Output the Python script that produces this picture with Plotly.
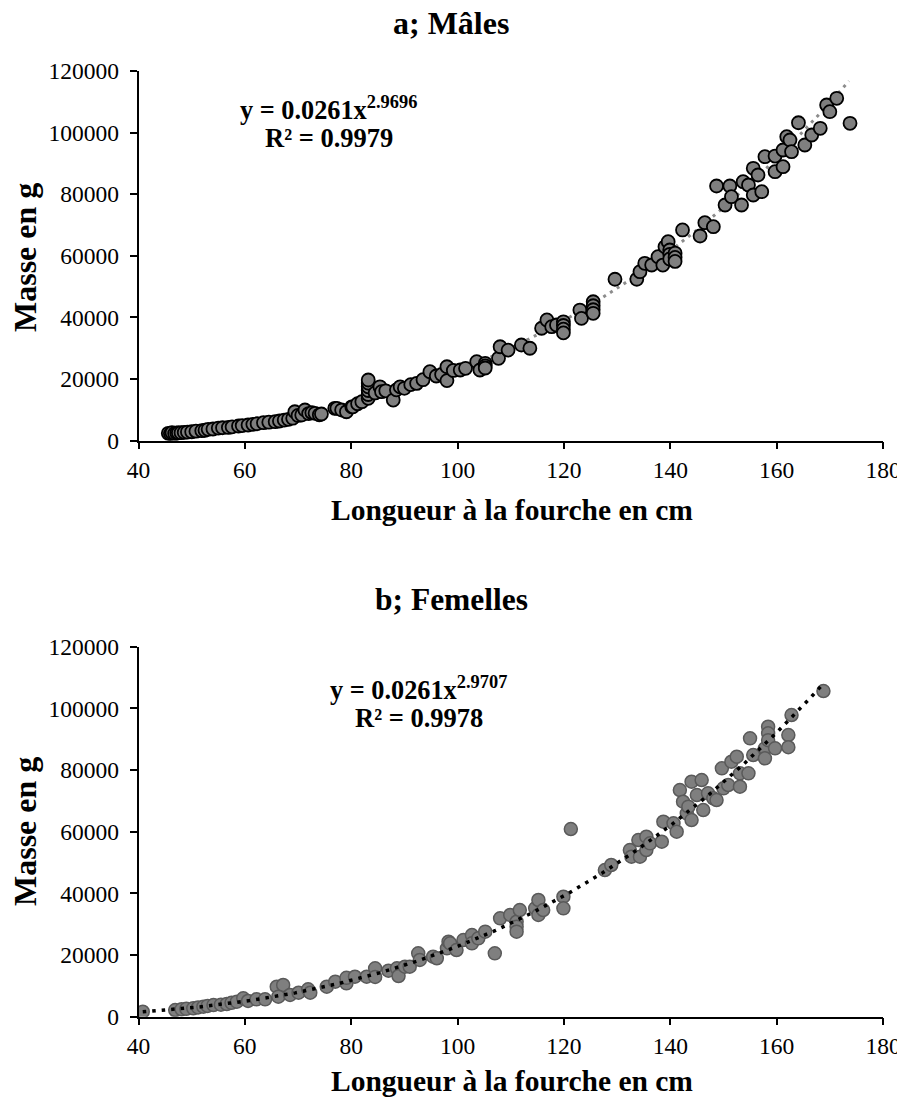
import numpy as np
import plotly.graph_objects as go

# ---------------- data: males ----------------
male_len = [45.6, 46.0, 46.3, 46.8, 47.2, 47.5, 48.0, 48.6, 49.2, 50.0, 50.8, 51.9, 52.5, 53.1,
            54.0, 55.0, 55.8, 56.9, 57.6, 58.8, 59.5, 60.6, 61.5, 62.3, 63.5, 64.5, 65.7, 66.5,
            67.4, 68.2, 69.0, 69.4, 70.0, 70.7, 71.3, 72.0, 72.6, 73.2, 74.0, 74.4,
            76.9, 77.3, 78.2, 79.1, 80.1, 80.3, 81.2, 82.0, 83.2, 83.2, 83.2, 83.2, 83.2, 83.2,
            84.5, 85.4, 85.7, 86.5, 87.9, 88.5, 89.2, 90.0, 91.2, 92.3, 93.5, 94.8, 96.0, 97.0,
            98.0, 98.0, 99.2, 100.5, 101.5, 103.6, 104.2, 105.2, 105.2, 105.2, 107.7, 108.0, 109.5,
            112.0, 113.6, 115.8, 116.8, 117.7, 118.6, 119.9, 119.9, 119.9, 119.9, 123.0, 123.3,
            125.5, 125.5, 125.5, 125.5, 129.6, 133.7, 134.3, 135.2, 136.5, 137.7, 138.6, 139.0,
            139.6, 139.9, 139.9, 139.9, 140.9, 140.9, 140.9, 142.3, 145.6, 146.5, 148.1, 148.7,
            150.3, 151.2, 151.5, 153.4, 153.7, 154.7, 155.6, 155.6, 156.5, 157.2, 157.8, 159.7,
            159.7, 161.2, 161.2, 161.9, 162.5, 162.8, 164.1, 165.3, 166.6, 168.2, 169.4, 170.0,
            171.3, 173.8]
male_mass = [2400, 2300, 2600, 2350, 2500, 2550, 2600, 2700, 2800, 2900, 3100, 3250, 3400, 3700,
             3800, 4100, 4200, 4300, 4500, 4770, 4900, 5100, 5300, 5500, 5840, 6000, 6170, 6400,
             6700, 6940, 7300, 9400, 8200, 8340, 9960, 8800, 9100, 8890, 8400, 8670,
             10500, 10500, 9960, 9400, 11000, 11000, 12000, 12660, 13760, 15000, 16300, 17500, 18700, 19700,
             15500, 17500, 15900, 16200, 13200, 16500, 17500, 17000, 18200, 18600, 19800, 22400, 21000, 21500,
             24000, 19500, 22800, 22950, 23500, 25650, 22950, 25120, 24300, 23600, 26750, 30500, 29400,
             31060, 30000, 36500, 39200, 37000, 37560, 38600, 37400, 36200, 35000, 42400, 39700,
             45100, 43800, 42500, 41350, 52400, 52400, 54860, 57580, 57030, 59730, 57000, 62970,
             64600, 61900, 60500, 59000, 60900, 59500, 58200, 68400, 66440, 70760, 69460, 82670,
             76500, 82670, 79200, 76500, 84070, 83000, 88420, 79750, 86240, 80820, 92190, 87320,
             92400, 94360, 88940, 98680, 97600, 93800, 103200, 95980, 99230, 101400, 108970, 106800,
             111140, 103030]

# ---------------- data: females ----------------
fem_len = [40.8, 46.9, 48.1, 49.0, 50.3, 51.2, 52.2, 53.0, 54.1, 55.5, 56.6, 57.5, 58.5, 59.7, 60.6,
           62.2, 63.8, 66.0, 67.2, 66.3, 68.5, 70.1, 71.9, 72.3, 75.4, 77.0, 79.1, 79.1, 80.7,
           82.9, 84.5, 84.5, 87.0, 88.6, 88.9, 90.1, 91.0, 92.6, 92.9, 95.4, 96.1, 98.0, 98.3,
           98.6, 99.8, 101.1, 102.7, 102.7, 103.9, 105.2, 107.0, 108.0, 109.9, 111.1, 111.1, 111.1,
           111.7, 114.6, 115.2, 115.2, 116.1, 119.9, 119.9, 121.3, 127.7, 128.9, 132.4, 132.7,
           134.0, 134.3, 135.5, 135.5, 136.2, 138.4, 138.7, 140.6, 141.2, 141.8, 142.4, 143.1,
           143.4, 144.0, 144.0, 145.0, 145.9, 146.2, 147.1, 148.1, 148.7, 149.7, 150.0, 150.9,
           151.5, 152.5, 153.1, 153.1, 154.7, 155.0, 155.6, 157.8, 157.8, 158.4, 158.4, 158.4,
           159.7, 162.2, 162.2, 162.8, 168.8]
fem_mass = [1620, 2170, 2400, 2550, 2720, 3000, 3240, 3500, 3790, 3900, 4120, 4500, 4860, 5970, 5100,
            5640, 5640, 9730, 10280, 6490, 7040, 7780, 8890, 7780, 9730, 11350, 10830, 12600, 12970,
            12970, 15690, 12900, 14920, 15690, 13200, 16210, 16210, 20560, 18400, 19460, 18940, 22180, 24320,
            23800, 21620, 24870, 26490, 23800, 25410, 27570, 20560, 31910, 32990, 30810, 29200, 27570,
            34600, 35150, 37850, 32990, 34600, 38910, 35150, 60870, 47570, 49200, 54060, 51890,
            57300, 51890, 58380, 54060, 56230, 56750, 63240, 62720, 60000, 73520, 69720, 65960,
            68130, 76210, 63790, 71900, 76760, 67030, 72440, 70820, 70270, 80560, 74070, 75140,
            82700, 84320, 74590, 78920, 78920, 90270, 84860, 87040, 83800, 94050, 91900, 89700,
            87040, 91360, 87400, 97840, 105620]

# power-law fits as printed on the chart
male_a, male_b = 0.0261, 2.9696
fem_a, fem_b = 0.0261, 2.9707
male_fit_range = [45.0, 173.6]
fem_fit_range = [40.8, 168.8]

x_ticks = [40, 60, 80, 100, 120, 140, 160, 180]
y_ticks = [0, 20000, 40000, 60000, 80000, 100000, 120000]
x_tick_text = [str(v) for v in x_ticks]
y_tick_text = [str(v) for v in y_ticks]

FONT = "Liberation Serif"
# the page body has an 8 px margin: the figure is drawn 8 px smaller and shifted
OFF = 8
W, H = 905 - OFF, 1099 - OFF

xm = np.linspace(male_fit_range[0], male_fit_range[1], 300)
xf = np.linspace(fem_fit_range[0], fem_fit_range[1], 300)

fig = go.Figure()
# male trend (gray dotted, below markers)
fig.add_trace(go.Scatter(x=xm, y=male_a * xm ** male_b, mode="lines",
                         line=dict(color="#8c8c8c", width=3, dash="3px,5px"),
                         xaxis="x", yaxis="y", hoverinfo="skip", showlegend=False))
fig.add_trace(go.Scatter(x=male_len, y=male_mass, mode="markers",
                         marker=dict(size=13, color="#7f7f7f", line=dict(color="black", width=1.8)),
                         xaxis="x", yaxis="y", showlegend=False))
# female markers then black dotted trend on top
fig.add_trace(go.Scatter(x=fem_len, y=fem_mass, mode="markers",
                         marker=dict(size=13, color="#7f7f7f", line=dict(color="#5a5a5a", width=1.5)),
                         xaxis="x2", yaxis="y2", showlegend=False))
fig.add_trace(go.Scatter(x=xf, y=fem_a * xf ** fem_b, mode="lines",
                         line=dict(color="black", width=3.5, dash="3.5px,6px"),
                         xaxis="x2", yaxis="y2", hoverinfo="skip", showlegend=False))

def px_x(p):
    return (p - OFF) / W

def px_y(p):
    return 1 - (p - OFF) / H

xdom = [px_x(138.5), px_x(883)]
tickfont = dict(family=FONT, size=23.5, color="black")

def axis(**kw):
    d = dict(showline=True, linecolor="black", linewidth=1.5, ticks="outside",
             ticklen=7, tickwidth=1.5, tickcolor="black", showgrid=False, zeroline=False,
             tickfont=tickfont, automargin=False, tickmode="array")
    d.update(kw)
    return d

fig.update_layout(
    template="none",
    width=W, height=H, margin=dict(l=0, r=0, t=0, b=0, pad=0),
    paper_bgcolor="white", plot_bgcolor="white",
    font=dict(family=FONT, size=23, color="black"),
    xaxis=axis(domain=xdom, anchor="y", range=[40, 180], tickvals=x_ticks, ticktext=x_tick_text),
    yaxis=axis(domain=[px_y(440.7), px_y(71)], anchor="x", range=[0, 120000],
               tickvals=y_ticks, ticktext=y_tick_text, ticklabelstandoff=6),
    xaxis2=axis(domain=xdom, anchor="y2", range=[40, 180], tickvals=x_ticks, ticktext=x_tick_text),
    yaxis2=axis(domain=[px_y(1016.7), px_y(646.7)], anchor="x2", range=[0, 120000],
                tickvals=y_ticks, ticktext=y_tick_text, ticklabelstandoff=6),
)

def ann(text, x, y, size, angle=0):
    fig.add_annotation(text=text, x=px_x(x), y=px_y(y), xref="paper", yref="paper",
                       showarrow=False, textangle=angle, xanchor="center", yanchor="middle",
                       font=dict(family=FONT, size=size, color="black"))

ann("<b>a; Mâles</b>", 451, 23, 32)
ann("<b>b; Femelles</b>", 451, 599, 31.5)
ann("<b>Longueur à la fourche en cm</b>", 512, 510, 29.5)
ann("<b>Longueur à la fourche en cm</b>", 512, 1081, 29.5)
ann("<b>Masse en g</b>", 25, 258, 32, -90)
ann("<b>Masse en g</b>", 25, 832, 32, -90)
ann("<b>y = 0.0261x<sup>2.9696</sup></b>", 328, 108, 26.3)
ann("<b>R² = 0.9979</b>", 329, 138, 26.5)
ann("<b>y = 0.0261x<sup>2.9707</sup></b>", 418, 688, 26.3)
ann("<b>R² = 0.9978</b>", 419, 718, 26.5)

fig.write_html("out.html")
